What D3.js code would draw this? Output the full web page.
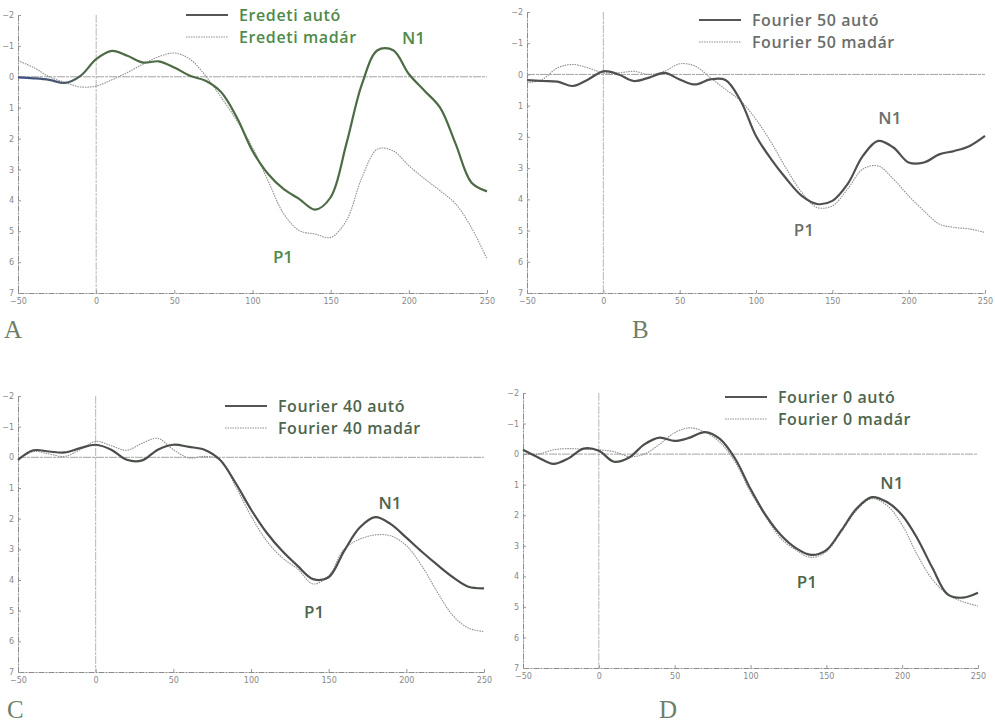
<!DOCTYPE html>
<html>
<head>
<meta charset="utf-8">
<script src="https://cdn.jsdelivr.net/npm/d3@7"></script>
<style>
  body { margin: 0; background: #fff; }
  .tick text { font-family: "DejaVu Sans", sans-serif; font-size: 8px; fill: #888; }
  .legend, .peak { font-family: "Open Sans", sans-serif; font-weight: 600; }
  .letter { font-family: "Liberation Serif", serif; font-size: 25px; fill: #6d7f6a; }
</style>
</head>
<body>
<div id="chart"></div>
<script>
// time in ms, amplitude in uV (negative up)
var times = [-50,-40,-30,-20,-10,0,10,20,30,40,50,60,70,80,90,100,110,120,130,140,150,160,170,180,190,200,210,220,230,240,250];

var eredetiAuto  = [0.02,0.05,0.1,0.2,-0.03,-0.57,-0.84,-0.68,-0.46,-0.5,-0.3,-0.03,0.13,0.5,1.32,2.4,3.15,3.64,3.96,4.3,3.9,2.18,0.24,-0.86,-0.86,-0.09,0.45,1.0,2.18,3.42,3.71];
var eredetiMadar = [-0.52,-0.3,0,0.18,0.33,0.3,0.1,-0.14,-0.41,-0.65,-0.77,-0.57,-0.03,0.67,1.42,2.29,3.37,4.44,4.98,5.09,5.2,4.66,3.26,2.34,2.4,2.88,3.3,3.69,4.12,4.88,5.9];

var f50Auto  = [0.18,0.21,0.23,0.37,0.16,-0.1,0,0.21,0.1,-0.05,0.16,0.32,0.16,0.18,0.85,1.97,2.72,3.35,3.89,4.15,4.05,3.51,2.61,2.13,2.34,2.82,2.82,2.56,2.45,2.29,1.97];
var f50Madar = [0.27,0.16,-0.21,-0.32,-0.21,-0.05,-0.05,-0.1,0,-0.1,-0.34,-0.27,0.1,0.48,0.85,1.44,2.18,3.03,3.78,4.26,4.21,3.67,3.03,2.93,3.35,3.89,4.37,4.79,4.9,4.95,5.06];

var f40Auto  = [0.08,-0.23,-0.19,-0.16,-0.3,-0.41,-0.25,0.08,0.1,-0.25,-0.41,-0.34,-0.25,0.08,0.83,1.7,2.45,3.05,3.54,3.97,3.91,3.05,2.29,1.95,2.18,2.62,3.08,3.51,3.91,4.22,4.27];
var f40Madar = [0.08,-0.19,-0.11,-0.03,-0.25,-0.52,-0.38,-0.23,-0.46,-0.62,-0.25,0.02,-0.03,0.08,0.94,1.91,2.72,3.27,3.64,4.13,3.86,2.99,2.67,2.53,2.56,2.88,3.54,4.4,5.16,5.57,5.68];

var f0Auto  = [-0.14,0.11,0.32,0.14,-0.18,-0.11,0.25,0.11,-0.32,-0.54,-0.43,-0.54,-0.72,-0.49,0.16,1.14,2.0,2.65,3.08,3.3,3.14,2.49,1.78,1.41,1.57,2.0,2.76,3.73,4.59,4.7,4.54];
var f0Madar = [0,0,-0.14,-0.18,-0.16,-0.14,-0.08,0.08,0,-0.32,-0.7,-0.86,-0.72,-0.38,0.27,1.24,2.05,2.76,3.14,3.38,3.19,2.54,1.84,1.46,1.68,2.32,3.3,4.11,4.59,4.83,4.97];

var xTicks = [-50,0,50,100,150,200,250];
var yTicks = [-2,-1,0,1,2,3,4,5,6,7];

var panels = [
  { letter: "A", auto: eredetiAuto, madar: eredetiMadar, names: ["Eredeti autó","Eredeti madár"],
    x0: 18, x1: 487, y0: 15, y1: 293, leg: [186, 15, 22], letterPos: [4, 338],
    textColor: "#4f8a4a", lineColor: "url(#gradA)", n1: [203, -1.26], p1: [119.5, 5.83] },
  { letter: "B", auto: f50Auto, madar: f50Madar, names: ["Fourier 50 autó","Fourier 50 madár"],
    x0: 527, x1: 985, y0: 12, y1: 293, leg: [699, 20, 22], letterPos: [632, 338],
    textColor: "#6b6e6b", lineColor: "#505050", n1: [187.7, 1.4], p1: [131.4, 4.99] },
  { letter: "C", auto: f40Auto, madar: f40Madar, names: ["Fourier 40 autó","Fourier 40 madár"],
    x0: 18, x1: 484, y0: 396, y1: 672, leg: [225, 406, 22], letterPos: [7, 718],
    textColor: "#4e654c", lineColor: "#4a4f4a", n1: [189.5, 1.49], p1: [140.6, 5.04] },
  { letter: "D", auto: f0Auto, madar: f0Madar, names: ["Fourier 0 autó","Fourier 0 madár"],
    x0: 523, x1: 978, y0: 393, y1: 668, leg: [725, 397, 22], letterPos: [659, 718],
    textColor: "#4e654c", lineColor: "#4a4f4a", n1: [193.2, 0.95], p1: [137.2, 4.18] }
];

var svg = d3.select("#chart").append("svg")
  .attr("width", 995)
  .attr("height", 723);

// panel A's solid trace starts bluish and turns green
var grad = svg.append("defs").append("linearGradient")
  .attr("id", "gradA")
  .attr("gradientUnits", "userSpaceOnUse")
  .attr("x1", 18).attr("x2", 487).attr("y1", 0).attr("y2", 0);
grad.append("stop").attr("offset", "0").attr("stop-color", "#3f4f8a");
grad.append("stop").attr("offset", "0.1").attr("stop-color", "#4a5a6a");
grad.append("stop").attr("offset", "0.16").attr("stop-color", "#4d6c45");
grad.append("stop").attr("offset", "1").attr("stop-color", "#4d6a45");

panels.forEach(function(p) {
  var x = d3.scaleLinear().domain([-50, 250]).range([p.x0, p.x1]);
  var y = d3.scaleLinear().domain([-2, 7]).range([p.y0, p.y1]);
  var g = svg.append("g");

  // axes, ticks point inward
  g.append("g")
    .attr("transform", `translate(0, ${p.y1})`)
    .call(d3.axisBottom(x).tickValues(xTicks).tickSize(-3).tickPadding(5).tickSizeOuter(0))
    .call(function(a) {
      a.select(".domain").attr("stroke", "#8a8a8a").attr("stroke-dasharray", "6,1,2,1");
      a.selectAll(".tick line").attr("stroke", "#999");
    });
  g.append("g")
    .attr("transform", `translate(${p.x0}, 0)`)
    .call(d3.axisLeft(y).tickValues(yTicks).tickSize(-3).tickPadding(4).tickSizeOuter(0))
    .call(function(a) {
      a.select(".domain").attr("stroke", "#8a8a8a").attr("stroke-dasharray", "6,1,2,1");
      a.selectAll(".tick line").attr("stroke", "#999");
    });

  // zero lines
  g.append("line")
    .attr("x1", x(-50)).attr("x2", x(250))
    .attr("y1", y(0)).attr("y2", y(0))
    .attr("stroke", "#9a9a9a").attr("stroke-width", 0.9)
    .attr("stroke-dasharray", "8,1,3,1");
  g.append("line")
    .attr("x1", x(0)).attr("x2", x(0))
    .attr("y1", y(-2)).attr("y2", y(7))
    .attr("stroke", "#a5a5a5").attr("stroke-width", 0.8)
    .attr("stroke-dasharray", "8,1,3,1");

  var line = d3.line()
    .x(function(d, i) { return x(times[i]); })
    .y(function(d) { return y(d); })
    .curve(d3.curveCatmullRom.alpha(0.5));

  g.append("path")
    .datum(p.madar)
    .attr("d", line)
    .attr("fill", "none")
    .attr("stroke", "#8e8e8e")
    .attr("stroke-width", 1.1)
    .attr("stroke-dasharray", "1.5,1");

  g.append("path")
    .datum(p.auto)
    .attr("d", line)
    .attr("fill", "none")
    .attr("stroke", p.lineColor)
    .attr("stroke-width", 2.2);

  // legend
  var lx = p.leg[0], ly = p.leg[1], dy = p.leg[2];
  g.append("line").attr("x1", lx).attr("x2", lx + 42).attr("y1", ly).attr("y2", ly)
    .attr("stroke", "#555").attr("stroke-width", 2);
  g.append("line").attr("x1", lx).attr("x2", lx + 42).attr("y1", ly + dy).attr("y2", ly + dy)
    .attr("stroke", "#8e8e8e").attr("stroke-width", 1.1).attr("stroke-dasharray", "1.5,1");
  p.names.forEach(function(name, i) {
    g.append("text")
      .attr("class", "legend")
      .attr("x", lx + 53)
      .attr("y", ly + i * dy)
      .attr("dy", "0.35em")
      .attr("font-size", 16)
      .attr("letter-spacing", 0.6)
      .attr("fill", p.textColor)
      .text(name);
  });

  // peak labels
  [["N1", p.n1], ["P1", p.p1]].forEach(function(lab) {
    g.append("text")
      .attr("class", "peak")
      .attr("x", x(lab[1][0]))
      .attr("y", y(lab[1][1]))
      .attr("dy", "0.35em")
      .attr("text-anchor", "middle")
      .attr("font-size", 17)
      .attr("fill", p.textColor)
      .text(lab[0]);
  });

  svg.append("text")
    .attr("class", "letter")
    .attr("x", p.letterPos[0])
    .attr("y", p.letterPos[1])
    .text(p.letter);
});
</script>
</body>
</html>
